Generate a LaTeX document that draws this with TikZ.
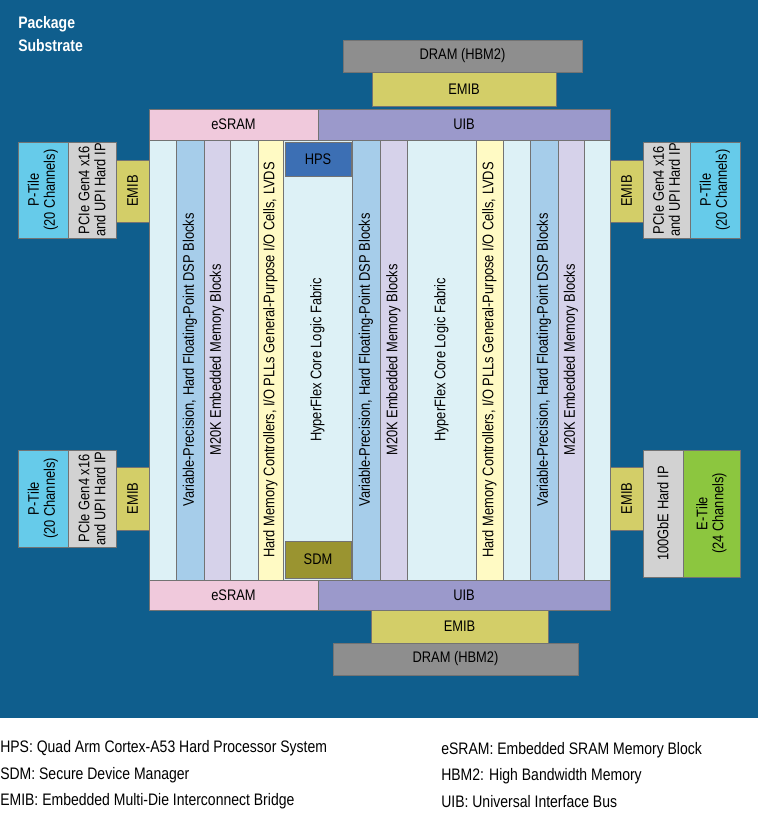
\documentclass[tikz,border=0pt]{standalone}
\usepackage{fontspec}
\setmainfont{Liberation Sans}
\definecolor{bg}{HTML}{0F5E8D}
\definecolor{die}{HTML}{DDF1F6}
\definecolor{dsp}{HTML}{A6CDEA}
\definecolor{mem}{HTML}{D6D2EA}
\definecolor{hmc}{HTML}{FFFAC4}
\definecolor{hps}{HTML}{3C6FB4}
\definecolor{sdm}{HTML}{9A9430}
\definecolor{esr}{HTML}{F0C9DC}
\definecolor{uib}{HTML}{9B99CB}
\definecolor{emib}{HTML}{D3CE68}
\definecolor{dram}{HTML}{8E8E8E}
\definecolor{pcie}{HTML}{D2D2D2}
\definecolor{ptile}{HTML}{66CBEA}
\definecolor{etile}{HTML}{8CC63F}
\tikzset{
  blk/.style={draw=black!55,line width=0.4pt,inner sep=0pt,fill=#1},
  lab/.style={font=\fontsize{11.5}{12}\selectfont\addfontfeature{FakeStretch=0.84},align=center,inner sep=0pt},
  vlab/.style={lab,rotate=90},
  leg/.style={font=\fontsize{12.5}{14}\selectfont\addfontfeature{FakeStretch=0.84},anchor=west,inner sep=0pt}
}
\newcommand{\bx}[7]{\node[blk=#6,minimum width={(#4-#2)*0.75pt},minimum height={(#5-#3)*0.75pt}] (#1) at ({(#2+#4)/2},{(#3+#5)/2}) {};
  \node[lab] (#1t) at (#1.center) {#7};}
\newcommand{\vx}[7]{\node[blk=#6,minimum width={(#4-#2)*0.75pt},minimum height={(#5-#3)*0.75pt}] (#1) at ({(#2+#4)/2},{(#3+#5)/2}) {};
  \node[vlab] (#1t) at (#1.center) {#7};}
\begin{document}
\begin{tikzpicture}[x=0.75pt,y=-0.75pt]
\useasboundingbox (0,0) rectangle (758,814);
\fill[white] (0,0) rectangle (758,814);
\fill[bg] (0,0) rectangle (758,718);
\node[anchor=north west,white,font=\fontsize{12.5}{17}\selectfont\bfseries\addfontfeature{FakeStretch=0.84},align=left,inner sep=0] (pkg) at (18,16) {Package\\Substrate};
% top memory
\bx{dramT}{343}{40}{582}{72}{dram}{DRAM (HBM2)}
\bx{emibT}{372}{72}{556}{106}{emib}{EMIB}
\bx{esrT}{149}{109}{318}{140}{esr}{eSRAM}
\bx{uibT}{318}{109}{610}{140}{uib}{UIB}
% die
\bx{die}{149}{140}{610}{580}{die}{}
\vx{c1}{149}{140}{176}{580}{die}{}
\vx{dsp1}{176}{140}{204}{580}{dsp}{Variable-Precision, Hard Floating-Point DSP Blocks}
\vx{mem1}{204}{140}{230}{580}{mem}{M20K Embedded Memory Blocks}
\vx{c2}{230}{140}{258}{580}{die}{}
\vx{hmc1}{258}{140}{283}{580}{hmc}{Hard Memory Controllers, I/O PLLs General-Purpose I/O Cells, LVDS}
\vx{fab1}{283}{140}{352}{580}{die}{HyperFlex Core Logic Fabric}
\bx{hps}{285}{142}{351}{176}{hps}{HPS}
\bx{sdm}{285}{541}{351}{578}{sdm}{SDM}
\vx{dsp2}{352}{140}{380}{580}{dsp}{Variable-Precision, Hard Floating-Point DSP Blocks}
\vx{mem2}{380}{140}{407}{580}{mem}{M20K Embedded Memory Blocks}
\vx{fab2}{407}{140}{476}{580}{die}{HyperFlex Core Logic Fabric}
\vx{hmc2}{476}{140}{503}{580}{hmc}{Hard Memory Controllers, I/O PLLs General-Purpose I/O Cells, LVDS}
\vx{c3}{503}{140}{530}{580}{die}{}
\vx{dsp3}{530}{140}{558}{580}{dsp}{Variable-Precision, Hard Floating-Point DSP Blocks}
\vx{mem3}{558}{140}{584}{580}{mem}{M20K Embedded Memory Blocks}
\vx{c4}{584}{140}{610}{580}{die}{}
% bottom memory
\bx{esrB}{149}{580}{318}{610}{esr}{eSRAM}
\bx{uibB}{318}{580}{610}{610}{uib}{UIB}
\bx{emibB}{371}{610}{548}{643}{emib}{EMIB}
\bx{dramB}{333}{643}{578}{675}{dram}{DRAM (HBM2)}
% left tiles
\vx{ptLT}{18}{142}{68}{238}{ptile}{P-Tile\\(20 Channels)}
\vx{pcLT}{68}{142}{116}{238}{pcie}{PCIe Gen4 x16\\and UPI Hard IP}
\vx{emLT}{116}{160}{149}{222}{emib}{EMIB}
\vx{ptLB}{18}{450}{68}{547}{ptile}{P-Tile\\(20 Channels)}
\vx{pcLB}{68}{450}{116}{547}{pcie}{PCIe Gen4 x16\\and UPI Hard IP}
\vx{emLB}{116}{467}{149}{530}{emib}{EMIB}
% right tiles
\vx{emRT}{610}{160}{643}{222}{emib}{EMIB}
\vx{pcRT}{643}{142}{690}{238}{pcie}{PCIe Gen4 x16\\and UPI Hard IP}
\vx{ptRT}{690}{142}{740}{238}{ptile}{P-Tile\\(20 Channels)}
\vx{emRB}{610}{467}{643}{530}{emib}{EMIB}
\vx{geRB}{643}{450}{683}{577}{pcie}{100GbE Hard IP}
\vx{etRB}{683}{450}{740}{577}{etile}{E-Tile\\(24 Channels)}
% legend
\node[leg] (l1) at (0,748) {HPS: Quad Arm Cortex-A53 Hard Processor System};
\node[leg] (l2) at (0,775) {SDM: Secure Device Manager};
\node[leg] (l3) at (0,801) {EMIB: Embedded Multi-Die Interconnect Bridge};
\node[leg] (l4) at (441,750) {eSRAM: Embedded SRAM Memory Block};
\node[leg] (l5) at (441,776) {HBM2: High Bandwidth Memory};
\node[leg] (l6) at (441,802) {UIB: Universal Interface Bus};
\end{tikzpicture}
\end{document}
